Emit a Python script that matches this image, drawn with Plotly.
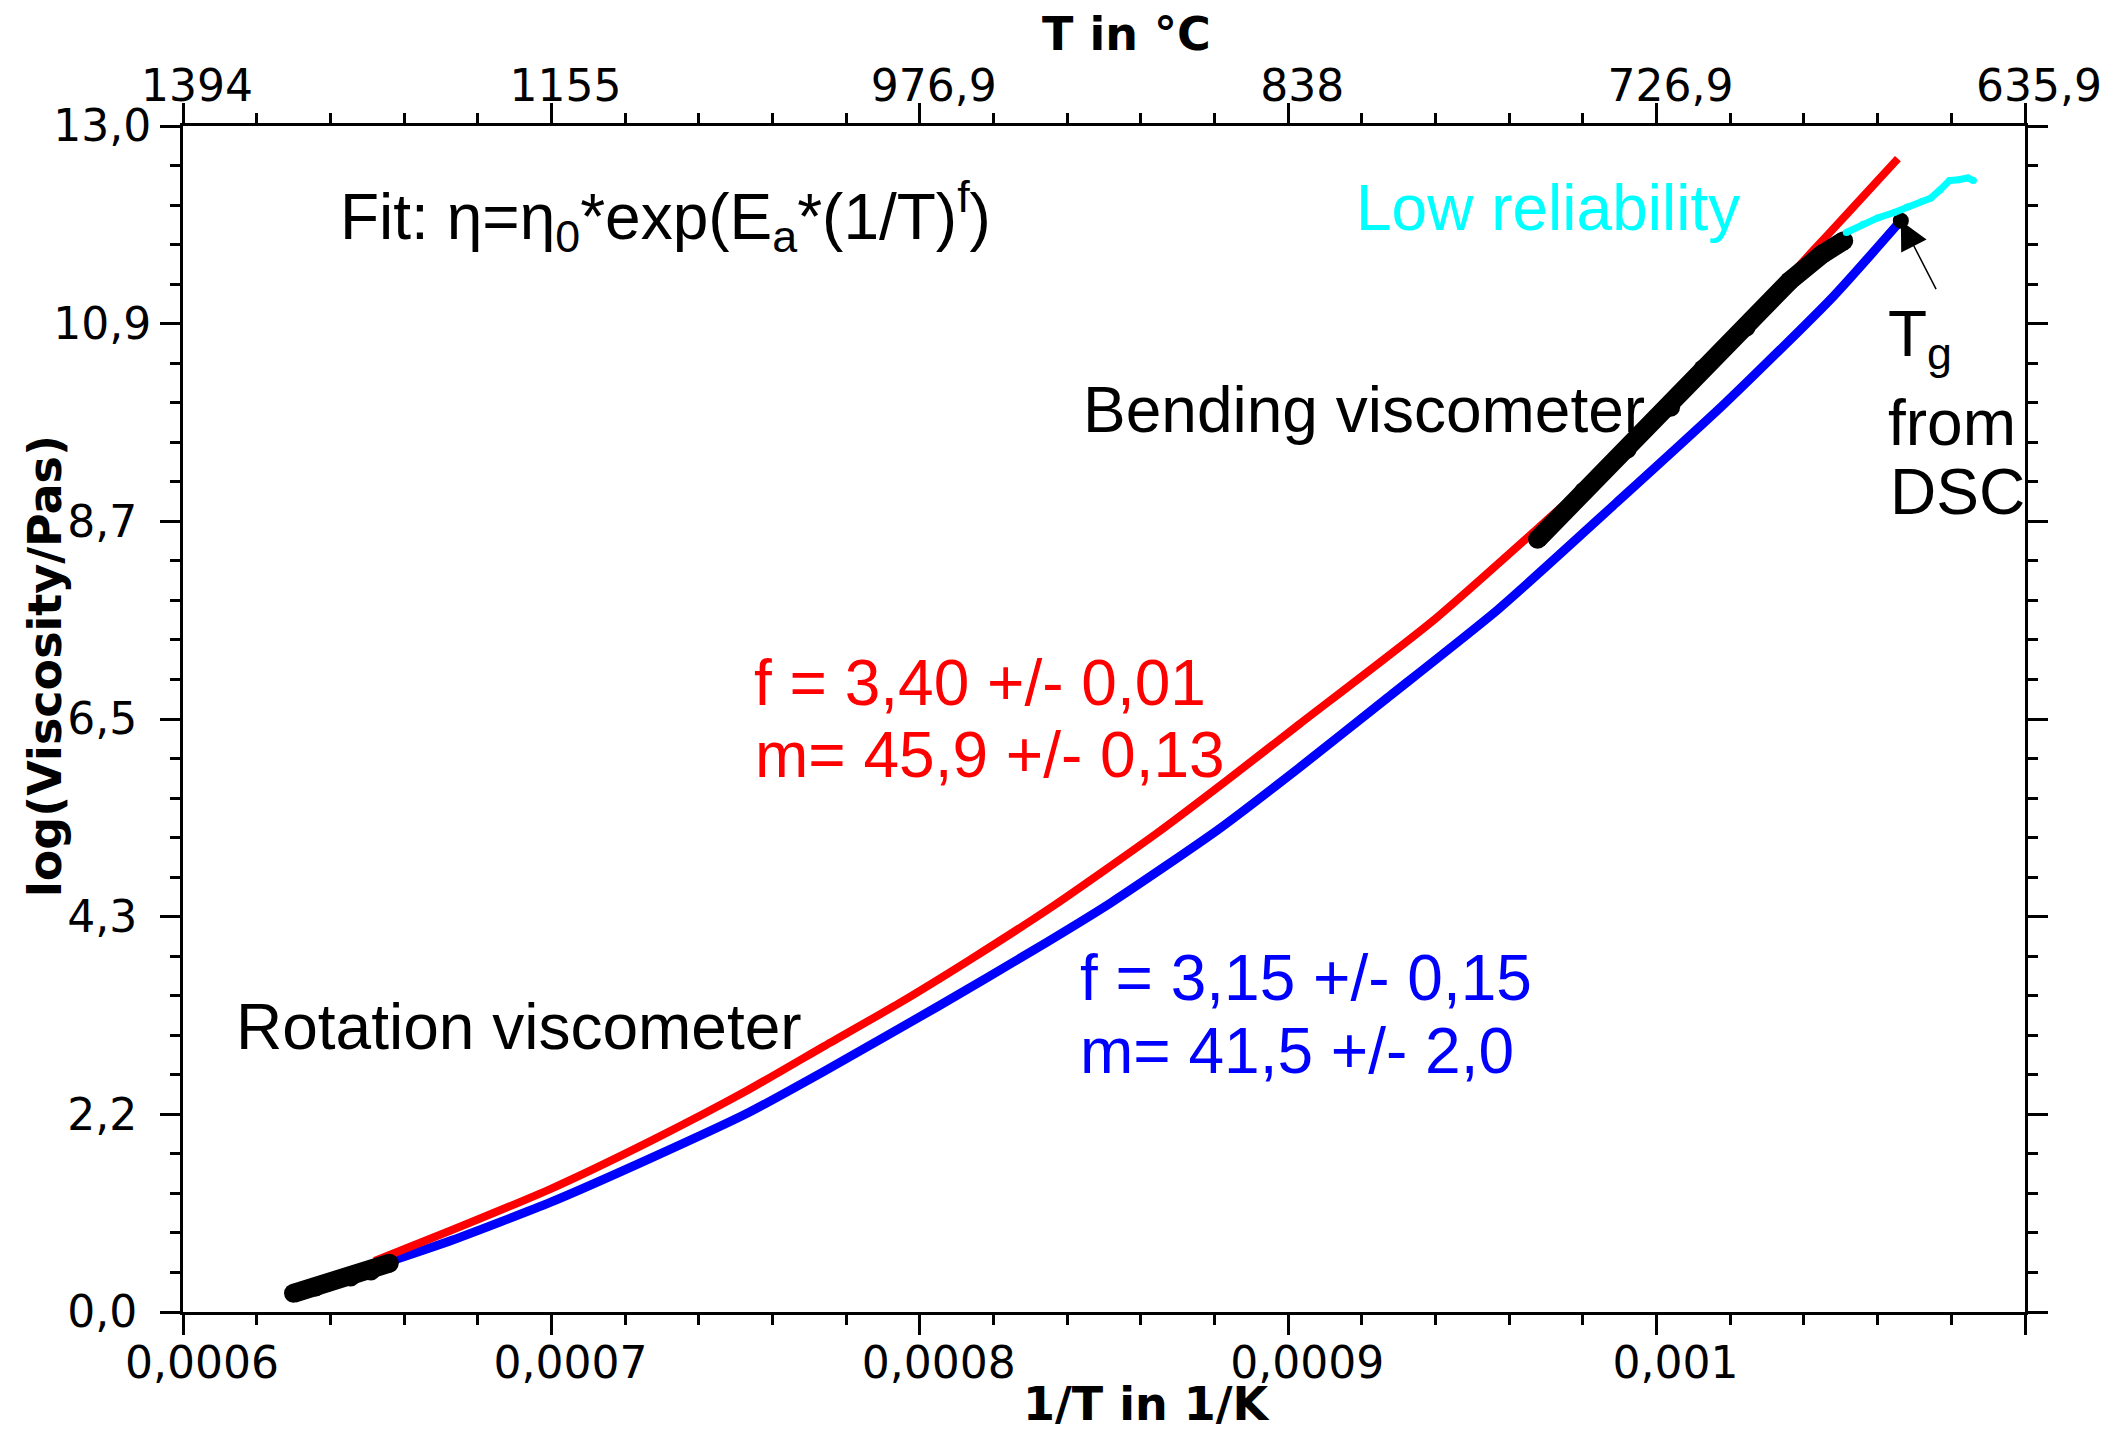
import plotly.graph_objects as go

# ---------------- data ----------------
x_tick_vals = [0.0006, 0.0007, 0.0008, 0.0009, 0.0010, 0.0011]
x_tick_text = ["0,0006", "0,0007", "0,0008", "0,0009", "0,001", "0,0011"]
top_tick_text = ["1394", "1155", "976,9", "838", "726,9", "635,9"]
y_tick_vals = [0.0, 2.1717, 4.3433, 6.515, 8.6867, 10.8583, 13.03]
y_tick_text = ["0,0", "2,2", "4,3", "6,5", "8,7", "10,9", "13,0"]

# fit with f = 3,40 (red)
red_x = [0.000652, 0.000673, 0.000700, 0.000727, 0.000753, 0.000774, 0.000795,
         0.000814, 0.000836, 0.000864, 0.000883, 0.000903, 0.000939, 0.000968,
         0.000992, 0.001004, 0.001024, 0.001042, 0.0010523, 0.0010655]
red_y = [0.56, 0.90, 1.356, 1.880, 2.430, 2.920, 3.407,
         3.880, 4.455, 5.250, 5.830, 6.457, 7.585, 8.620,
         9.500, 9.970, 10.840, 11.640, 12.090, 12.672]

# fit with f = 3,15 (blue)
blue_x = [0.000652, 0.000673, 0.000700, 0.000727, 0.000753, 0.000774, 0.000805,
          0.000831, 0.000852, 0.000881, 0.000903, 0.000927, 0.000957, 0.000989,
          0.0010185, 0.001048, 0.0010663]
blue_y = [0.50, 0.788, 1.209, 1.690, 2.180, 2.644, 3.359,
          3.978, 4.500, 5.300, 5.980, 6.750, 7.720, 8.888,
          9.981, 11.159, 11.99]

# rotation viscometer data (black)
rot_x = [0.000630, 0.000636, 0.0006455, 0.000651, 0.000656]
rot_y = [0.205, 0.275, 0.385, 0.45, 0.535]

# bending viscometer data (black)
bend_x = [0.0009677, 0.0009802, 0.000992, 0.0010038, 0.0010126, 0.0010243,
          0.0010361, 0.0010449, 0.0010508]
bend_y = [8.489, 9.014, 9.477, 9.94, 10.36, 10.82,
          11.327, 11.62, 11.77]

# low reliability data (cyan)
low_x = [0.0010515, 0.001056, 0.001060, 0.0010645, 0.001068, 0.001072,
         0.0010745, 0.001077, 0.0010795, 0.001082, 0.0010845, 0.001086]
low_y = [11.86, 11.95, 12.02, 12.08, 12.14, 12.20,
         12.24, 12.33, 12.43, 12.44, 12.46, 12.43]

# Tg from DSC
tg_x = [0.0010663]
tg_y = [11.99]

# ---------------- figure ----------------
W, H = 2118, 1432
ML, MR, MT, MB = 183, 93, 126, 120
PW, PH = W - ML - MR, H - MT - MB

def px(xp):
    return (xp - ML) / PW

def py(yp):
    return (H - MB - yp) / PH

fig = go.Figure()
fig.add_trace(go.Scatter(x=blue_x, y=blue_y, mode="lines",
                         line=dict(color="#0000FF", width=9, shape="spline", smoothing=0.6),
                         hoverinfo="skip"))
fig.add_trace(go.Scatter(x=red_x, y=red_y, mode="lines",
                         line=dict(color="#FF0000", width=8, shape="spline", smoothing=0.6),
                         hoverinfo="skip"))
for bx, by in ((rot_x, rot_y), (bend_x, bend_y)):
    fig.add_trace(go.Scatter(x=bx, y=by, mode="lines+markers",
                             line=dict(color="black", width=19),
                             marker=dict(color="black", size=19),
                             hoverinfo="skip"))
fig.add_trace(go.Scatter(x=low_x, y=low_y, mode="lines+markers", xaxis="x2",
                         line=dict(color="#00FFFF", width=7),
                         marker=dict(color="#00FFFF", size=7), hoverinfo="skip"))
fig.add_trace(go.Scatter(x=tg_x, y=tg_y, mode="markers",
                         marker=dict(color="black", size=16), hoverinfo="skip"))

tickfont = dict(family="DejaVu Sans", size=44, color="black")
common_x = dict(range=[0.0006, 0.0011], tickmode="array", tickvals=x_tick_vals,
                ticks="outside", ticklen=20, tickwidth=3, tickcolor="black",
                showline=True, linewidth=3, linecolor="black", showgrid=False,
                zeroline=False, tickfont=tickfont,
                minor=dict(dtick=0.00002, tick0=0.0006, ticks="outside", ticklen=10,
                           tickwidth=3, tickcolor="black", showgrid=False))

nbsp = "\u00a0"
y_text_padded = [t if len(t) >= 4 else t + nbsp for t in y_tick_text]

fig.update_layout(
    width=W, height=H,
    margin=dict(l=ML, r=MR, t=MT, b=MB, pad=0),
    plot_bgcolor="white", paper_bgcolor="white", showlegend=False,
    xaxis=dict(**common_x, ticktext=x_tick_text, ticklabelshift=19,
               ticklabelstandoff=-10),
    xaxis2=dict(**common_x, ticktext=top_tick_text, overlaying="x", side="top",
                ticklabelshift=14, ticklabelstandoff=-16),
    yaxis=dict(range=[0, 13.03], tickmode="array", tickvals=y_tick_vals,
               ticktext=y_text_padded, ticks="outside", ticklen=20, tickwidth=3,
               tickcolor="black", showline=True, linewidth=3, linecolor="black",
               mirror="ticks", showgrid=False, zeroline=False, tickfont=tickfont,
               minor=dict(dtick=13.03 / 30, tick0=0, ticks="outside", ticklen=10,
                          tickwidth=3, tickcolor="black", showgrid=False)),
)

title_font = dict(family="DejaVu Sans", size=46, color="black")
lab_font = "Liberation Sans"
LS = 64

annotations = [
    # axis titles
    dict(text="<b>1/T in 1/K</b>", x=px(1147), y=py(1404), font=title_font),
    dict(text="<b>T in °C</b>", x=px(1126), y=py(34), font=title_font),
    dict(text="<b>log(Viscosity/Pas)</b>", x=px(45), y=py(666), font=title_font,
         textangle=-90),
    # labels
    dict(text="Fit: η=η<sub>0</sub>*exp(E<sub>a</sub>*(1/T)<sup>f</sup>)",
         x=px(338), y=py(216), xanchor="left",
         font=dict(family=lab_font, size=LS, color="black")),
    dict(text="Low reliability", x=px(1354), y=py(208), xanchor="left",
         font=dict(family=lab_font, size=LS, color="#00FFFF")),
    dict(text="Bending viscometer", x=px(1081), y=py(410), xanchor="left",
         font=dict(family=lab_font, size=LS, color="black")),
    dict(text="Rotation viscometer", x=px(234), y=py(1027), xanchor="left",
         font=dict(family=lab_font, size=LS, color="black")),
    dict(text="f = 3,40 +/- 0,01", x=px(752), y=py(683), xanchor="left",
         font=dict(family=lab_font, size=LS, color="#FF0000")),
    dict(text="m= 45,9 +/- 0,13", x=px(753), y=py(755), xanchor="left",
         font=dict(family=lab_font, size=LS, color="#FF0000")),
    dict(text="f = 3,15 +/- 0,15", x=px(1078), y=py(978), xanchor="left",
         font=dict(family=lab_font, size=LS, color="#0000FF")),
    dict(text="m= 41,5 +/- 2,0", x=px(1078), y=py(1051), xanchor="left",
         font=dict(family=lab_font, size=LS, color="#0000FF")),
    dict(text="T<sub>g</sub>", x=px(1886), y=py(338), xanchor="left",
         font=dict(family=lab_font, size=LS, color="black")),
    dict(text="from", x=px(1886), y=py(423), xanchor="left",
         font=dict(family=lab_font, size=LS, color="black")),
    dict(text="DSC", x=px(1888), y=py(492), xanchor="left",
         font=dict(family=lab_font, size=LS, color="black")),
]
for a in annotations:
    a.setdefault("xref", "paper")
    a.setdefault("yref", "paper")
    a.setdefault("showarrow", False)
    a.setdefault("yanchor", "middle")
    a.setdefault("xanchor", "center")
    fig.add_annotation(**a)

# arrow pointing to Tg
fig.add_annotation(x=tg_x[0], y=tg_y[0], xref="x", yref="y", text="",
                   showarrow=True, arrowhead=2, arrowsize=3.8, arrowwidth=1.5,
                   arrowcolor="black", ax=36, ay=70, standoff=0)

fig.write_html("out.html")
